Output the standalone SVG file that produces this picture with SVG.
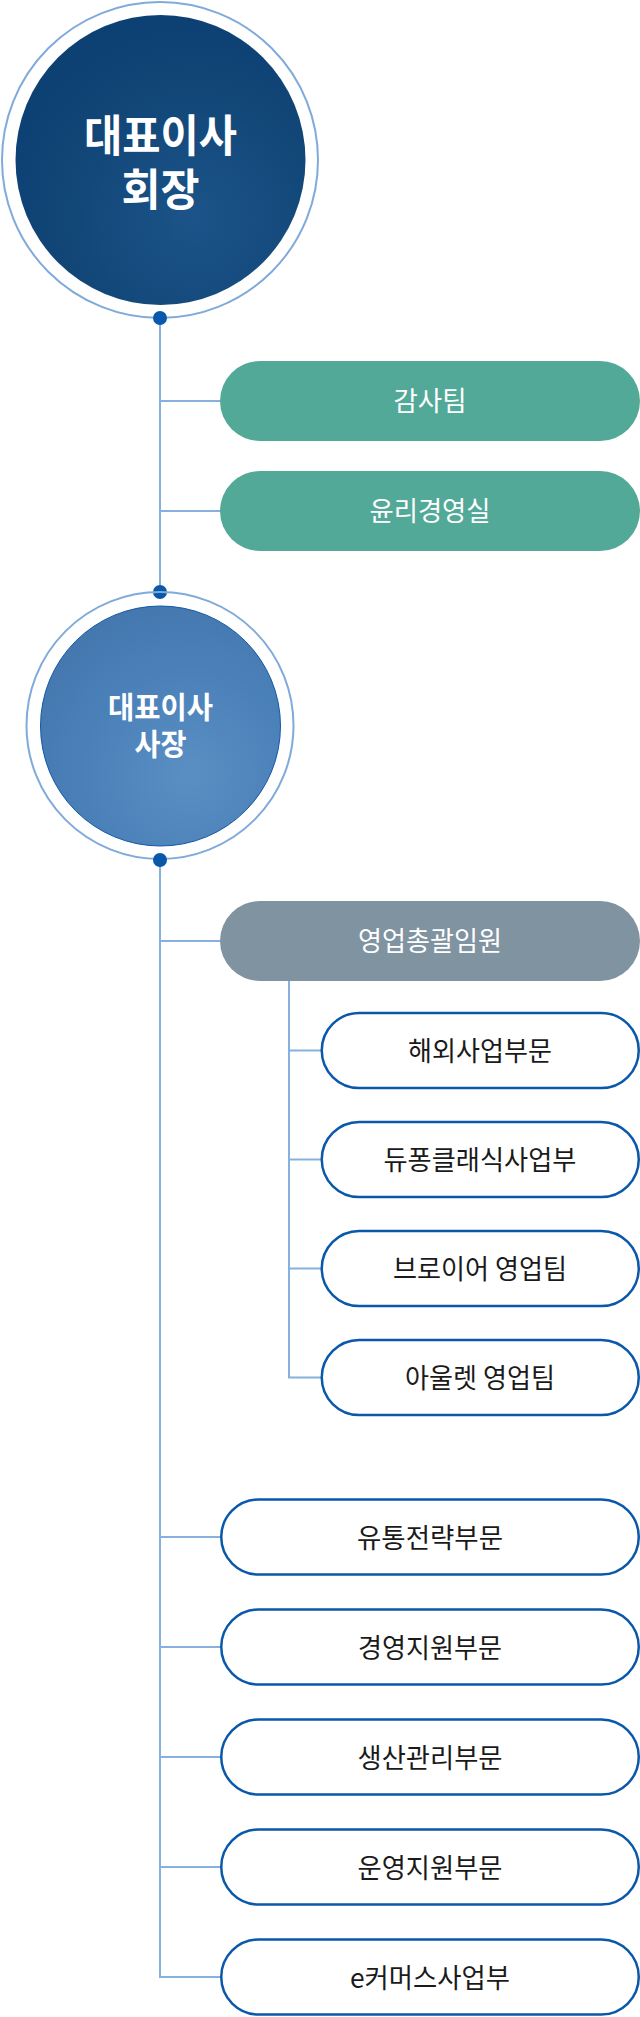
<svg xmlns="http://www.w3.org/2000/svg" width="640" height="2017" viewBox="0 0 640 2017">
<defs>
<radialGradient id="g1" cx="0.62" cy="0.7" r="0.75">
<stop offset="0" stop-color="#1c5489"/>
<stop offset="0.6" stop-color="#114677"/>
<stop offset="1" stop-color="#0c3f72"/>
</radialGradient>
<radialGradient id="g2" cx="0.62" cy="0.7" r="0.75">
<stop offset="0" stop-color="#5a8fc3"/>
<stop offset="0.6" stop-color="#4a80b8"/>
<stop offset="1" stop-color="#4477ae"/>
</radialGradient>
<style>
.ring{fill:none;stroke:#80aad9;stroke-width:2}
.dot{fill:#0a58aa}
.conn{fill:none;stroke:#86b0de;stroke-width:2}
.fill-g{fill:#52a998}
.fill-s{fill:#7f93a1}
.out{fill:#fff;stroke:#0a58aa;stroke-width:2.5}
.t{font-family:"Noto Sans CJK KR","Noto Sans",sans-serif;font-size:27px;text-anchor:middle}
.w{fill:#fff}
.k{fill:#1a1a1a}
.ct{font-family:"Noto Sans CJK KR","Noto Sans",sans-serif;font-weight:700;fill:#fff;text-anchor:middle}
</style>
</defs>

<g id="connectors">
<line class="conn" x1="160" y1="318" x2="160" y2="592"/>
<line class="conn" x1="160" y1="401" x2="221" y2="401"/>
<line class="conn" x1="160" y1="511" x2="221" y2="511"/>
<path class="conn" d="M160 860 V1977 H221"/>
<line class="conn" x1="160" y1="941" x2="221" y2="941"/>
<line class="conn" x1="160" y1="1537" x2="221" y2="1537"/>
<line class="conn" x1="160" y1="1647" x2="221" y2="1647"/>
<line class="conn" x1="160" y1="1757" x2="221" y2="1757"/>
<line class="conn" x1="160" y1="1867" x2="221" y2="1867"/>
<path class="conn" d="M289 981 V1377.5 H321"/>
<line class="conn" x1="289" y1="1050.5" x2="321" y2="1050.5"/>
<line class="conn" x1="289" y1="1159.5" x2="321" y2="1159.5"/>
<line class="conn" x1="289" y1="1268.5" x2="321" y2="1268.5"/>
</g>

<g id="chairman">
<circle class="ring" cx="160" cy="160" r="158"/>
<circle cx="160.5" cy="160" r="145" fill="url(#g1)"/>
<text class="ct" font-size="44"><tspan x="160.5" y="152" textLength="153" lengthAdjust="spacingAndGlyphs">대표이사</tspan><tspan x="160.5" y="206" textLength="78" lengthAdjust="spacingAndGlyphs">회장</tspan></text>
<circle class="dot" cx="160" cy="318" r="7"/>
</g>

<g id="audit">
<rect class="fill-g" x="220" y="361" width="420" height="80" rx="40"/>
<text class="t w" x="430" y="411" textLength="73" lengthAdjust="spacingAndGlyphs">감사팀</text>
</g>
<g id="ethics">
<rect class="fill-g" x="220" y="471" width="420" height="80" rx="40"/>
<text class="t w" x="430" y="521" textLength="121" lengthAdjust="spacingAndGlyphs">윤리경영실</text>
</g>

<g id="president">
<circle class="dot" cx="160" cy="592" r="7"/>
<circle class="ring" cx="160" cy="725.5" r="133.5"/>
<circle cx="160.5" cy="726" r="120" fill="url(#g2)" stroke="#1458a8" stroke-width="1"/>
<text class="ct" font-size="30"><tspan x="160.5" y="718" textLength="105" lengthAdjust="spacingAndGlyphs">대표이사</tspan><tspan x="160.5" y="755" textLength="52" lengthAdjust="spacingAndGlyphs">사장</tspan></text>
<circle class="dot" cx="160" cy="860" r="7"/>
</g>

<g id="sales-exec">
<rect class="fill-s" x="220" y="901" width="420" height="80" rx="40"/>
<text class="t w" x="430" y="951" textLength="144" lengthAdjust="spacingAndGlyphs">영업총괄임원</text>
</g>

<g id="overseas">
<rect class="out" x="321.75" y="1013" width="317" height="75" rx="37.5"/>
<text class="t k" x="480" y="1061" textLength="144" lengthAdjust="spacingAndGlyphs">해외사업부문</text>
</g>
<g id="dupont">
<rect class="out" x="321.75" y="1122" width="317" height="75" rx="37.5"/>
<text class="t k" x="480" y="1170" textLength="193" lengthAdjust="spacingAndGlyphs">듀퐁클래식사업부</text>
</g>
<g id="breuer">
<rect class="out" x="321.75" y="1231" width="317" height="75" rx="37.5"/>
<text class="t k" x="480" y="1279" textLength="174" lengthAdjust="spacingAndGlyphs">브로이어 영업팀</text>
</g>
<g id="outlet">
<rect class="out" x="321.75" y="1340" width="317" height="75" rx="37.5"/>
<text class="t k" x="480" y="1388" textLength="150" lengthAdjust="spacingAndGlyphs">아울렛 영업팀</text>
</g>

<g id="distribution">
<rect class="out" x="221.25" y="1499.5" width="417.5" height="75" rx="37.5"/>
<text class="t k" x="430" y="1547.5" textLength="146" lengthAdjust="spacingAndGlyphs">유통전략부문</text>
</g>
<g id="management">
<rect class="out" x="221.25" y="1609.5" width="417.5" height="75" rx="37.5"/>
<text class="t k" x="430" y="1657.5" textLength="144" lengthAdjust="spacingAndGlyphs">경영지원부문</text>
</g>
<g id="production">
<rect class="out" x="221.25" y="1719.5" width="417.5" height="75" rx="37.5"/>
<text class="t k" x="430" y="1767.5" textLength="145" lengthAdjust="spacingAndGlyphs">생산관리부문</text>
</g>
<g id="operations">
<rect class="out" x="221.25" y="1829.5" width="417.5" height="75" rx="37.5"/>
<text class="t k" x="430" y="1877.5" textLength="145" lengthAdjust="spacingAndGlyphs">운영지원부문</text>
</g>
<g id="ecommerce">
<rect class="out" x="221.25" y="1939.5" width="417.5" height="75" rx="37.5"/>
<text class="t k" x="430" y="1987.5" textLength="160" lengthAdjust="spacingAndGlyphs">e커머스사업부</text>
</g>
</svg>
